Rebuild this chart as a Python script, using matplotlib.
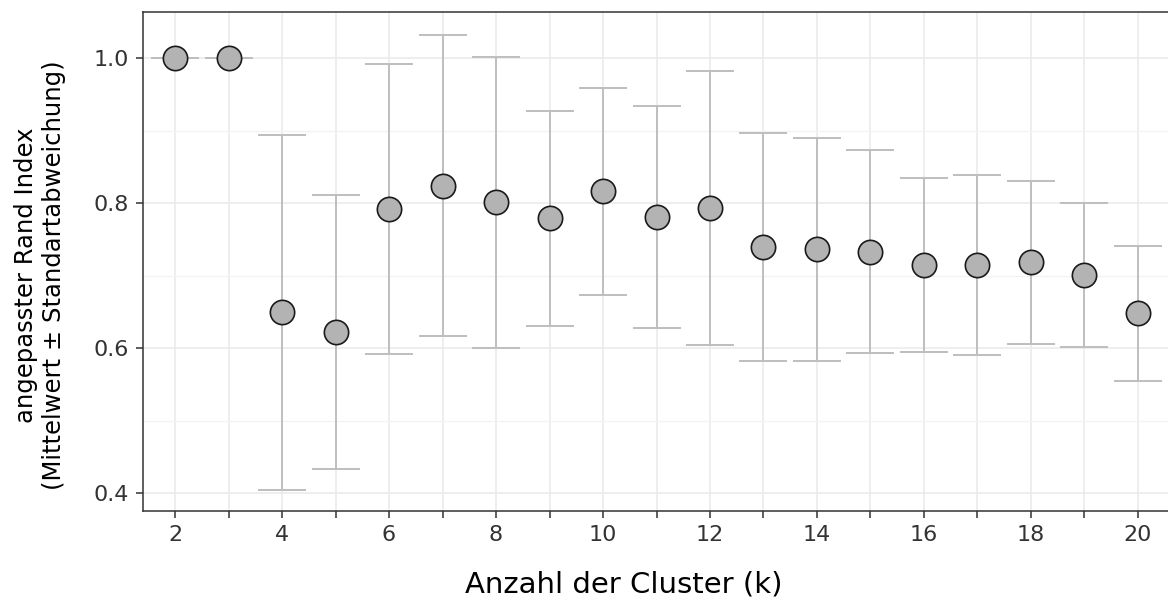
import matplotlib
matplotlib.use("Agg")
import matplotlib.pyplot as plt
import numpy as np

# Data
k_values = [2, 3, 4, 5, 6, 7, 8, 9, 10, 11, 12, 13, 14, 15, 16, 17, 18, 19, 20]
ari_mean = [1.000, 1.000, 0.649, 0.622, 0.792, 0.824, 0.801, 0.779, 0.816, 0.781,
            0.793, 0.739, 0.736, 0.733, 0.714, 0.715, 0.718, 0.701, 0.648]
ari_sd = [0.000, 0.000, 0.245, 0.189, 0.200, 0.208, 0.201, 0.148, 0.143, 0.153,
          0.189, 0.157, 0.154, 0.140, 0.120, 0.124, 0.112, 0.099, 0.093]
x_tick_labels = [str(k) if k % 2 == 0 else "" for k in k_values]
y_ticks = [0.4, 0.6, 0.8, 1.0]

plt.rcParams['font.family'] = ['DejaVu Sans']

W, H = 1168, 597
fig = plt.figure(figsize=(W / 100, H / 100), dpi=100)
left, right, top, bottom = 143, 1170, 12, 511
ax = fig.add_axes([left / W, 1 - bottom / H, (right - left) / W, (bottom - top) / H])

x = np.arange(len(k_values))
mean = np.array(ari_mean)
sd = np.array(ari_sd)

# grid
ax.set_axisbelow(True)
for xi in x:
    ax.axvline(xi, color='#EBEBEB', lw=1.2, zorder=0)
for yv in [0.4, 0.6, 0.8, 1.0]:
    ax.axhline(yv, color='#EBEBEB', lw=1.2, zorder=0)
for yv in [0.5, 0.7, 0.9]:
    ax.axhline(yv, color='#F2F2F2', lw=0.9, zorder=0)

# error bars
ax.errorbar(x, mean, yerr=sd, fmt='none', ecolor='#BEBEBE', elinewidth=1.4,
            capsize=17.5, capthick=1.4, zorder=2)
# points
ax.plot(x, mean, 'o', markersize=17.5, markerfacecolor='#B3B3B3',
        markeredgecolor='#1A1A1A', markeredgewidth=1.2, zorder=3, linestyle='none')

ax.set_xlim(-0.6, len(k_values) - 1 + 0.6)
ax.set_ylim(0.4 - 18 / 725, 1.0 + 46 / 725)

ax.set_xticks(x)
ax.set_xticklabels(x_tick_labels)
ax.set_yticks(y_ticks)
ax.set_yticklabels([f"{v:.1f}" for v in y_ticks])

ax.tick_params(axis='both', length=5, width=1.1, color='#333333',
               labelsize=16, labelcolor='#333333', pad=5)

for s in ax.spines.values():
    s.set_color('#333333')
    s.set_linewidth(1.1)

ax.set_xlabel("Anzahl der Cluster (k)", fontsize=21, color='black', va='baseline')
ax.xaxis.set_label_coords((624 - left) / (right - left), -(592 - bottom) / (bottom - top),
                          transform=ax.transAxes)
ax.set_ylabel("angepasster Rand Index\n(Mittelwert ± Standartabweichung)", fontsize=17.5,
              color='black', linespacing=1.25, va='center')
ax.yaxis.set_label_coords((40 - left) / (right - left), (bottom - 275) / (bottom - top),
                          transform=ax.transAxes)

fig.savefig("out.png", dpi=100)
